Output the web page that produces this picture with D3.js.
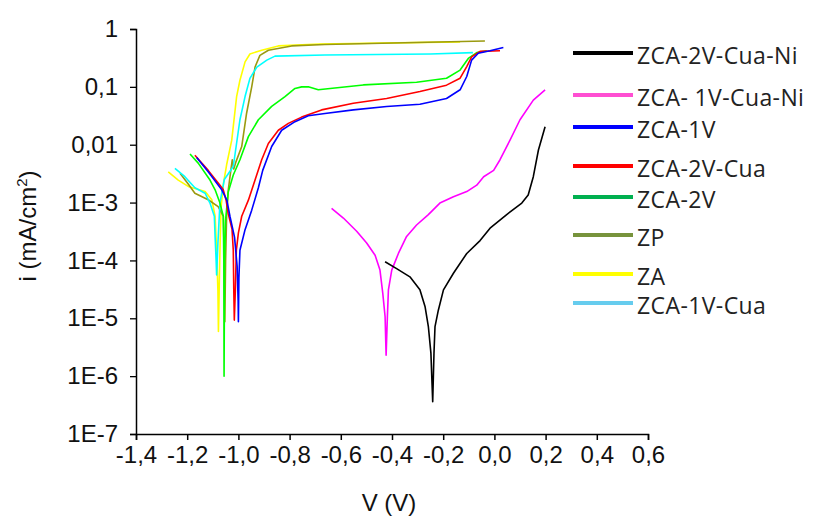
<!DOCTYPE html>
<html><head><meta charset="utf-8">
<script src="https://cdn.jsdelivr.net/npm/d3@7"></script>
<style>body{margin:0;background:#fff}svg{display:block}</style>
</head><body><svg id="c" width="819" height="517"></svg>
<script>
const xTicks = [-1.4,-1.2,-1.0,-0.8,-0.6,-0.4,-0.2,0.0,0.2,0.4,0.6];
const xTickLabels = ["-1,4","-1,2","-1,0","-0,8","-0,6","-0,4","-0,2","0,0","0,2","0,4","0,6"];
const yTicks = [1,0.1,0.01,1e-3,1e-4,1e-5,1e-6,1e-7];
const yTickLabels = ["1","0,1","0,01","1E-3","1E-4","1E-5","1E-6","1E-7"];
const seriesNames = ["ZCA-2V-Cua-Ni","ZCA- 1V-Cua-Ni","ZCA-1V","ZCA-2V-Cua","ZCA-2V","ZP","ZA","ZCA-1V-Cua"];

const zca2vCuaNi = [[-0.427,9.5e-5],[-0.382,7.2e-5],[-0.330,5.2e-5],[-0.291,3.1e-5],[-0.271,1.6e-5],[-0.258,7.2e-6],[-0.248,2.5e-6],[-0.241,3.6e-7],[-0.236,2.5e-6],[-0.232,7.2e-6],[-0.219,1.38e-5],[-0.199,3.1e-5],[-0.160,6e-5],[-0.108,1.32e-4],[-0.056,2.2e-4],[-0.017,3.6e-4],[0.048,6.2e-4],[0.107,9.8e-4],[0.132,1.35e-3],[0.152,2.8e-3],[0.172,8.1e-3],[0.198,0.0205]];
const zca1vCuaNi = [[-0.636,7.9e-4],[-0.590,5.4e-4],[-0.538,3.2e-4],[-0.499,2e-4],[-0.466,1.23e-4],[-0.447,6.8e-5],[-0.436,2.7e-5],[-0.427,1.07e-5],[-0.423,2.3e-6],[-0.418,1.07e-5],[-0.414,3.1e-5],[-0.401,6.8e-5],[-0.375,1.32e-4],[-0.343,2.6e-4],[-0.304,4.1e-4],[-0.258,6.2e-4],[-0.213,9.8e-4],[-0.160,1.26e-3],[-0.108,1.55e-3],[-0.069,2e-3],[-0.042,2.8e-3],[-0.003,3.6e-3],[0.022,5.5e-3],[0.061,0.012],[0.100,0.027],[0.152,0.059],[0.198,0.089]];
const zca1v = [[-1.163,6e-3],[-1.118,3.4e-3],[-1.065,1.66e-3],[-1.045,1.1e-3],[-1.033,5.8e-4],[-1.015,2.5e-4],[-1.005,8e-5],[-1.001,2e-5],[-1.000,8.7e-6],[-0.998,5e-5],[-0.994,1.5e-4],[-0.974,3.4e-4],[-0.948,7.4e-4],[-0.922,1.8e-3],[-0.905,3.6e-3],[-0.870,9.3e-3],[-0.831,0.0178],[-0.779,0.025],[-0.727,0.0316],[-0.662,0.0347],[-0.551,0.040],[-0.421,0.0457],[-0.291,0.050],[-0.187,0.063],[-0.134,0.089],[-0.108,0.151],[-0.089,0.29],[-0.063,0.38],[-0.017,0.42],[0.035,0.48]];
const zca2vCua = [[-1.170,6.6e-3],[-1.118,3.6e-3],[-1.072,2e-3],[-1.059,1.66e-3],[-1.048,1.1e-3],[-1.040,6.5e-4],[-1.025,3.5e-4],[-1.020,1.5e-4],[-1.018,3e-5],[-1.016,9.3e-6],[-1.012,3e-5],[-1.008,1.5e-4],[-1.000,3e-4],[-0.987,5.8e-4],[-0.961,1.1e-3],[-0.935,2.45e-3],[-0.909,5.5e-3],[-0.883,0.0105],[-0.844,0.0178],[-0.805,0.0234],[-0.753,0.030],[-0.675,0.040],[-0.551,0.052],[-0.421,0.063],[-0.291,0.083],[-0.187,0.107],[-0.134,0.141],[-0.108,0.224],[-0.089,0.33],[-0.056,0.41],[0.022,0.42]];
const zca2v = [[-1.189,6.9e-3],[-1.157,4.8e-3],[-1.111,2.45e-3],[-1.091,1.66e-3],[-1.072,9.8e-4],[-1.059,5.8e-4],[-1.057,1e-4],[-1.056,1e-6],[-1.054,1e-4],[-1.050,5e-4],[-1.040,1.5e-3],[-1.020,3e-3],[-0.994,5.5e-3],[-0.961,0.0138],[-0.922,0.027],[-0.870,0.046],[-0.818,0.068],[-0.779,0.094],[-0.753,0.1],[-0.727,0.1],[-0.688,0.089],[-0.512,0.108],[-0.304,0.12],[-0.187,0.141],[-0.134,0.195],[-0.102,0.31],[-0.069,0.39],[-0.030,0.42]];
const zp = [[-1.228,3.2e-3],[-1.196,2.1e-3],[-1.170,1.45e-3],[-1.118,1.12e-3],[-1.079,8.5e-4],[-1.059,5.8e-4],[-1.055,1e-4],[-1.053,8.7e-6],[-1.050,1e-4],[-1.046,6e-4],[-1.040,1.6e-3],[-1.030,3.5e-3],[-1.024,5.5e-3],[-1.018,3.8e-3],[-1.010,5e-3],[-0.987,9.3e-3],[-0.968,0.035],[-0.948,0.1],[-0.935,0.22],[-0.916,0.35],[-0.883,0.43],[-0.792,0.51],[-0.662,0.54],[-0.037,0.62]];
const za = [[-1.274,3.4e-3],[-1.235,2.45e-3],[-1.196,1.9e-3],[-1.130,1.55e-3],[-1.104,1.12e-3],[-1.091,5.8e-4],[-1.085,1.5e-4],[-1.080,3e-5],[-1.078,5.9e-6],[-1.073,1e-4],[-1.068,8e-4],[-1.058,2.2e-3],[-1.046,4.5e-3],[-1.026,0.012],[-1.007,0.068],[-0.994,0.13],[-0.974,0.27],[-0.955,0.37],[-0.909,0.43],[-0.844,0.51],[-0.681,0.55],[-0.134,0.6]];
const zca1vCua = [[-1.248,3.9e-3],[-1.209,2.8e-3],[-1.170,1.8e-3],[-1.130,1.45e-3],[-1.111,9.8e-4],[-1.094,5.8e-4],[-1.091,2.6e-4],[-1.087,1e-4],[-1.085,5.6e-5],[-1.080,2e-4],[-1.072,1e-3],[-1.055,2.5e-3],[-1.020,4.2e-3],[-0.994,0.027],[-0.974,0.068],[-0.955,0.14],[-0.928,0.22],[-0.889,0.29],[-0.857,0.34],[-0.662,0.356],[-0.25,0.37],[-0.084,0.39]];

const plotColors = ["#000000","#ff00ff","#0000ff","#ff0000","#00ff00","#9a9a10","#ffff00","#00ffff"];
const legendColors = ["#000000","#ff4fd2","#0000ff","#ff0000","#00b050","#77933c","#ffff00","#66ccee"];
const allSeries = [zca2vCuaNi,zca1vCuaNi,zca1v,zca2vCua,zca2v,zp,za,zca1vCua];

const svg = d3.select("#c");
const x = d3.scaleLinear().domain([-1.4,0.6]).range([136,648]);
const y = d3.scaleLog().domain([1e-7,1]).range([434,29]);

const line = d3.line().x(d=>x(d[0])).y(d=>y(d[1]));
const drawOrder = [6,5,7,4,3,2,1,0];
drawOrder.forEach(k=>{
  svg.append("path").attr("d",line(allSeries[k])).attr("fill","none")
    .attr("stroke",plotColors[k]).attr("stroke-width",1.6).attr("stroke-linejoin","round");
});

const axisFont = "Liberation Sans, Arial, sans-serif";
// x axis
const xMinor = d3.range(-1.3,0.6,0.2);
const gx = svg.append("g").attr("transform","translate(0,434)");
gx.call(d3.axisBottom(x).tickValues(xMinor).tickSize(4).tickFormat(""));
gx.call(d3.axisBottom(x).tickValues(xTicks).tickSize(6).tickPadding(6).tickFormat((d,i)=>xTickLabels[i]));
gx.selectAll(".domain").attr("stroke","#000").attr("stroke-width",1.5);
gx.selectAll(".tick line").attr("stroke","#000").attr("stroke-width",1.5);
gx.selectAll("text").attr("font-family",axisFont).attr("font-size",24).attr("fill","#111");

// y axis
const yMinor = [];
for (let e=-7;e<0;e++) for (let m=2;m<=9;m++) yMinor.push(m*Math.pow(10,e));
const gy = svg.append("g").attr("transform","translate(136,0)");
gy.call(d3.axisLeft(y).tickValues(yMinor).tickSize(3).tickFormat(""));
gy.call(d3.axisLeft(y).tickValues(yTicks).tickSize(6).tickPadding(12).tickFormat((d,i)=>yTickLabels[i]));
gy.selectAll(".domain").attr("stroke","#000").attr("stroke-width",1.5);
gy.selectAll(".tick line").attr("stroke","#000").attr("stroke-width",1.3);
gy.selectAll("text").attr("font-family",axisFont).attr("font-size",24).attr("fill","#111");

// titles
svg.append("text").attr("x",389).attr("y",511).attr("text-anchor","middle")
  .attr("font-family",axisFont).attr("font-size",24).attr("fill","#111").text("V (V)");
const yt = svg.append("text").attr("transform","translate(36,226) rotate(-90)").attr("text-anchor","middle")
  .attr("font-family",axisFont).attr("font-size",24).attr("fill","#111");
yt.append("tspan").text("i (mA/cm");
yt.append("tspan").attr("dy",-9).attr("font-size",15).text("2");
yt.append("tspan").attr("dy",9).text(")");

// legend
const legendY = [53,95,127,166,197,235,274,303];
seriesNames.forEach((n,i)=>{
  svg.append("line").attr("x1",573).attr("x2",633).attr("y1",legendY[i]).attr("y2",legendY[i])
    .attr("stroke",legendColors[i]).attr("stroke-width",4);
  svg.append("text").attr("x",637).attr("y",legendY[i]+11).attr("font-family","Open Sans, sans-serif")
    .attr("font-size",23).attr("letter-spacing",0.4).attr("fill","#222").text(n);
});
</script></body></html>
